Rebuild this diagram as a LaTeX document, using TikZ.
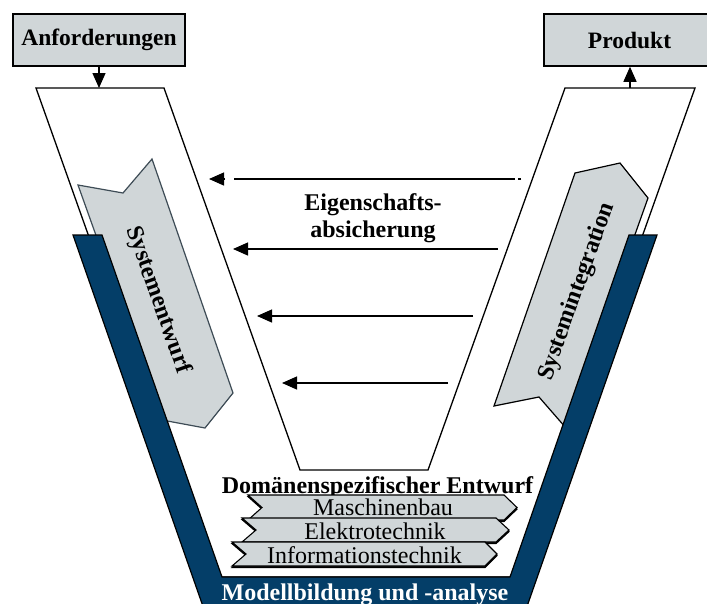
\documentclass[tikz,border=0pt]{standalone}
\usepackage{fontspec}
\setmainfont{Liberation Serif}
\usetikzlibrary{arrows.meta}
\definecolor{panelgray}{RGB}{208,214,216}
\definecolor{bandblue}{RGB}{4,62,104}
\definecolor{slateedge}{RGB}{62,76,86}
\begin{document}
\begin{tikzpicture}[x=1pt,y=-1pt,
  outline/.style={draw=black,line width=1.3pt,line join=miter},
  labelbox/.style={draw=black,line width=1.5pt,fill=panelgray,minimum height=52pt,
    inner sep=0pt,font=\fontsize{23.5}{27}\selectfont\bfseries},
  phasebox/.style={fill=panelgray,line width=1.2pt,line join=miter},
  domainbox/.style={fill=panelgray,draw=black,line width=1.1pt,line join=miter},
  domainshadow/.style={fill=black,draw=black,line width=1.1pt,line join=miter,yshift=-1.6pt},
  flow/.style={-{Triangle[length=15pt,width=13pt]},line width=1.3pt},
  bigbold/.style={font=\fontsize{24}{27}\selectfont\bfseries,inner sep=0pt},
  plaintext/.style={font=\fontsize{24}{27}\selectfont,inner sep=0pt},
]
\useasboundingbox (0,0) rectangle (707,603);
\clip (0,0) rectangle (707,603);

% input and output boxes
\node[labelbox,minimum width=172pt] (anf) at (99,40) {Anforderungen};
\node[labelbox,minimum width=171pt] (prod) at (629.5,40) {Produkt};

% white V of the process model
\path[outline,fill=white] (36,88) -- (164,88) -- (300,470) -- (428,470)
  -- (565,88) -- (695,88) -- (521,577) -- (210,577) -- cycle;

\coordinate (vin) at (99,88);
\coordinate (vout) at (630,88);
\draw[flow] (anf.south) -- (vin);
\draw[flow] (vout) -- (vout |- prod.south);

% phase arrows along both arms
\path[phasebox,draw=slateedge] (78,185) -- (123,193) -- (152,159) -- (233,393)
  -- (205,428) -- (162,420) -- cycle;
\path[phasebox,draw=black] (575,173) -- (620,163) -- (648,198) -- (566,428)
  -- (539,397) -- (494,406) -- cycle;
\node[bigbold,rotate=-70.4] (entwurf) at (158,300) {Systementwurf};
\node[bigbold,rotate=70.4] (integ) at (577,292) {Systemintegration};

% modelling band
\path[fill=bandblue,draw=black,line width=1.2pt,line join=miter]
  (73,235) -- (102,235) -- (222,577) -- (510,577) -- (629,235) -- (657,235)
  -- (524,615) -- (206,615) -- cycle;
\node[bigbold,text=white,anchor=base] (model) at (365,600) {Modellbildung und -analyse};

% domain specific design
\node[bigbold,anchor=base] (dom) at (377.5,493) {Domänenspezifischer Entwurf};
\path[domainshadow] (248,495) -- (504,495) -- (517,507.5) -- (504,520) -- (248,520)
  -- (262,507.5) -- cycle;
\path[domainbox] (248,495) -- (504,495) -- (517,507.5) -- (504,520) -- (248,520)
  -- (262,507.5) -- cycle;
\node[plaintext,anchor=base] (mb) at (383,515) {Maschinenbau};
\path[domainshadow] (242,518) -- (496,518) -- (509,530) -- (496,542) -- (242,542)
  -- (256,530) -- cycle;
\path[domainbox] (242,518) -- (496,518) -- (509,530) -- (496,542) -- (242,542)
  -- (256,530) -- cycle;
\node[plaintext,anchor=base] (et) at (375,539) {Elektrotechnik};
\path[domainshadow] (232,542) -- (485,542) -- (497,554) -- (485,566) -- (232,566)
  -- (246,554) -- cycle;
\path[domainbox] (232,542) -- (485,542) -- (497,554) -- (485,566) -- (232,566)
  -- (246,554) -- cycle;
\node[plaintext,anchor=base] (it) at (364.5,563) {Informationstechnik};

% property assurance
\node[bigbold,align=center,anchor=base] (eig) at (373,237)
  {Eigenschafts-\\absicherung};
\coordinate (a1s) at (521,179); \coordinate (a1e) at (209,179);
\coordinate (a2s) at (498,249); \coordinate (a2e) at (233,249);
\coordinate (a3s) at (473,316); \coordinate (a3e) at (257,316);
\coordinate (a4s) at (448,383); \coordinate (a4e) at (282,383);
\draw[flow,dash pattern=on 3pt off 3pt on 281pt off 9pt] (a1s) -- (a1e);
\draw[flow] (a2s) -- (a2e);
\draw[flow] (a3s) -- (a3e);
\draw[flow] (a4s) -- (a4e);
\end{tikzpicture}
\end{document}
